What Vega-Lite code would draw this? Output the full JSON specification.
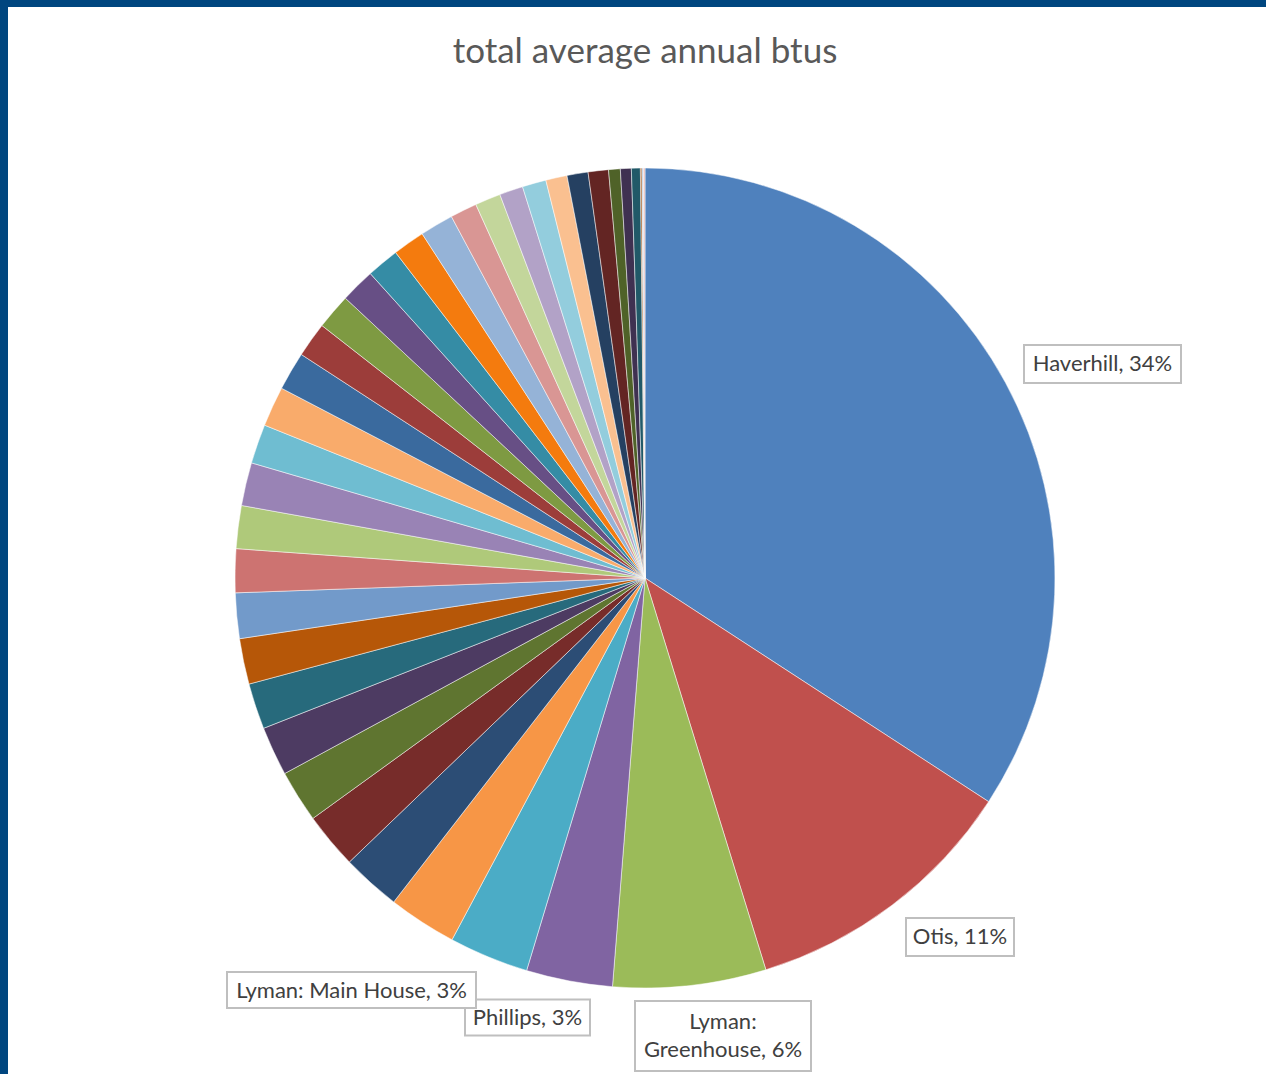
{
  "$schema": "https://vega.github.io/schema/vega-lite/v6.json",
  "width": 1258,
  "height": 1067,
  "autosize": {"type": "none"},
  "padding": {"left": 8, "top": 7, "right": 0, "bottom": 0},
  "background": "#00467F",
  "view": {"fill": "white", "stroke": null},
  "config": {"view": {"fill": "white", "stroke": null}, "font": "Lato"},
  "title": {"text": "total average annual btus", "frame": "group", "anchor": "middle", "offset": -63, "dx": 8, "fontSize": 35, "font": "Lato", "fontWeight": "normal", "color": "#595959"},
  "data": {"values": [
    {"idx": 1, "name": "Haverhill", "value": 34.2, "label": "Haverhill, 34%"},
    {"idx": 2, "name": "Otis", "value": 11.06, "label": "Otis, 11%"},
    {"idx": 3, "name": "Lyman: Greenhouse", "value": 6.03, "label": "Lyman:\nGreenhouse, 6%"},
    {"idx": 4, "name": "Phillips", "value": 3.40, "label": "Phillips, 3%"},
    {"idx": 5, "name": "Lyman: Main House", "value": 3.14, "label": "Lyman: Main House, 3%"},
    {"idx": 6, "name": "Building 6", "value": 2.70, "label": ""},
    {"idx": 7, "name": "Building 7", "value": 2.32, "label": ""},
    {"idx": 8, "name": "Building 8", "value": 2.21, "label": ""},
    {"idx": 9, "name": "Building 9", "value": 2.06, "label": ""},
    {"idx": 10, "name": "Building 10", "value": 1.94, "label": ""},
    {"idx": 11, "name": "Building 11", "value": 1.81, "label": ""},
    {"idx": 12, "name": "Building 12", "value": 1.80, "label": ""},
    {"idx": 13, "name": "Building 13", "value": 1.79, "label": ""},
    {"idx": 14, "name": "Building 14", "value": 1.72, "label": ""},
    {"idx": 15, "name": "Building 15", "value": 1.69, "label": ""},
    {"idx": 16, "name": "Building 16", "value": 1.70, "label": ""},
    {"idx": 17, "name": "Building 17", "value": 1.55, "label": ""},
    {"idx": 18, "name": "Building 18", "value": 1.58, "label": ""},
    {"idx": 19, "name": "Building 19", "value": 1.52, "label": ""},
    {"idx": 20, "name": "Building 20", "value": 1.38, "label": ""},
    {"idx": 21, "name": "Building 21", "value": 1.40, "label": ""},
    {"idx": 22, "name": "Building 22", "value": 1.36, "label": ""},
    {"idx": 23, "name": "Building 23", "value": 1.28, "label": ""},
    {"idx": 24, "name": "Building 24", "value": 1.26, "label": ""},
    {"idx": 25, "name": "Building 25", "value": 1.32, "label": ""},
    {"idx": 26, "name": "Building 26", "value": 1.06, "label": ""},
    {"idx": 27, "name": "Building 27", "value": 1.01, "label": ""},
    {"idx": 28, "name": "Building 28", "value": 0.93, "label": ""},
    {"idx": 29, "name": "Building 29", "value": 0.94, "label": ""},
    {"idx": 30, "name": "Building 30", "value": 0.84, "label": ""},
    {"idx": 31, "name": "Building 31", "value": 0.83, "label": ""},
    {"idx": 32, "name": "Building 32", "value": 0.80, "label": ""},
    {"idx": 33, "name": "Building 33", "value": 0.46, "label": ""},
    {"idx": 34, "name": "Building 34", "value": 0.43, "label": ""},
    {"idx": 35, "name": "Building 35", "value": 0.35, "label": ""},
    {"idx": 36, "name": "Building 36", "value": 0.06, "label": ""},
    {"idx": 37, "name": "Building 37", "value": 0.06, "label": ""},
    {"idx": 38, "name": "Building 38", "value": 0.06, "label": ""}
  ]},
  "layer": [
    {
      "mark": {"type": "arc", "outerRadius": 410, "x": {"expr": "width/2+8"}, "y": {"expr": "height/2+37.5"}, "stroke": "white", "strokeWidth": 0.5},
      "encoding": {
        "theta": {"field": "value", "type": "quantitative", "stack": true},
        "order": {"field": "idx", "type": "quantitative", "sort": "ascending"},
        "color": {"field": "name", "type": "nominal", "legend": null, "sort": null,
          "scale": {
            "domain": ["Haverhill", "Otis", "Lyman: Greenhouse", "Phillips", "Lyman: Main House", "Building 6", "Building 7", "Building 8", "Building 9", "Building 10", "Building 11", "Building 12", "Building 13", "Building 14", "Building 15", "Building 16", "Building 17", "Building 18", "Building 19", "Building 20", "Building 21", "Building 22", "Building 23", "Building 24", "Building 25", "Building 26", "Building 27", "Building 28", "Building 29", "Building 30", "Building 31", "Building 32", "Building 33", "Building 34", "Building 35", "Building 36", "Building 37", "Building 38"],
            "range": ["#4F81BD", "#C0504D", "#9BBB59", "#8064A2", "#4BACC6", "#F79646", "#2C4D75", "#772C2A", "#5F7530", "#4D3B62", "#276A7C", "#B65708", "#729ACA", "#CD7371", "#AFC97A", "#9983B5", "#6FBDD1", "#F9AB6B", "#3A6A9E", "#9C3D3A", "#7E9A42", "#674F85", "#358CA5", "#F47B0E", "#95B3D7", "#D99694", "#C3D69B", "#B2A2C7", "#93CDDD", "#FAC090", "#254061", "#632523", "#4F6228", "#3F3151", "#215968", "#974806", "#B9CDE5", "#E6B9B8"]
          }
        }
      }
    },
    {
      "transform": [{"filter": "datum.name === 'Haverhill'"}],
      "mark": {"type": "point", "shape": "M-1,-0.242H1V0.242H-1Z", "size": 24649, "x": {"expr": "width/2+8+457.5"}, "y": {"expr": "height/2+37.5-214"}, "filled": true, "fill": "white", "stroke": "#BFBFBF", "strokeWidth": 2, "opacity": 1},
      "encoding": {}
    },
    {
      "mark": {"type": "text", "radius": 470, "x": {"expr": "width/2+8"}, "y": {"expr": "height/2+37.5"}, "dx": 44.3, "dy": 10, "fontSize": 22, "font": "Lato", "align": "center", "baseline": "middle", "lineBreak": "\n", "lineHeight": 28},
      "encoding": {
        "theta": {"field": "value", "type": "quantitative", "stack": true},
        "order": {"field": "idx", "type": "quantitative", "sort": "ascending"},
        "detail": {"field": "name", "type": "nominal"},
        "color": {"value": "#404040"},
        "text": {"condition": {"test": "datum.name === 'Haverhill'", "field": "label", "type": "nominal"}, "value": ""}
      }
    },
    {
      "transform": [{"filter": "datum.name === 'Otis'"}],
      "mark": {"type": "point", "shape": "M-1,-0.352H1V0.352H-1Z", "size": 11664, "x": {"expr": "width/2+8+315"}, "y": {"expr": "height/2+37.5+359"}, "filled": true, "fill": "white", "stroke": "#BFBFBF", "strokeWidth": 2, "opacity": 1},
      "encoding": {}
    },
    {
      "mark": {"type": "text", "radius": 470, "x": {"expr": "width/2+8"}, "y": {"expr": "height/2+37.5"}, "dx": 31.9, "dy": -16.2, "fontSize": 22, "font": "Lato", "align": "center", "baseline": "middle", "lineBreak": "\n", "lineHeight": 28},
      "encoding": {
        "theta": {"field": "value", "type": "quantitative", "stack": true},
        "order": {"field": "idx", "type": "quantitative", "sort": "ascending"},
        "detail": {"field": "name", "type": "nominal"},
        "color": {"value": "#404040"},
        "text": {"condition": {"test": "datum.name === 'Otis'", "field": "label", "type": "nominal"}, "value": ""}
      }
    },
    {
      "transform": [{"filter": "datum.name === 'Lyman: Greenhouse'"}],
      "mark": {"type": "point", "shape": "M-1,-0.398H1V0.398H-1Z", "size": 30976, "x": {"expr": "width/2+8+78"}, "y": {"expr": "height/2+37.5+458"}, "filled": true, "fill": "white", "stroke": "#BFBFBF", "strokeWidth": 2, "opacity": 1},
      "encoding": {}
    },
    {
      "mark": {"type": "text", "radius": 470, "x": {"expr": "width/2+8"}, "y": {"expr": "height/2+37.5"}, "dx": 26.4, "dy": -23, "fontSize": 22, "font": "Lato", "align": "center", "baseline": "middle", "lineBreak": "\n", "lineHeight": 28},
      "encoding": {
        "theta": {"field": "value", "type": "quantitative", "stack": true},
        "order": {"field": "idx", "type": "quantitative", "sort": "ascending"},
        "detail": {"field": "name", "type": "nominal"},
        "color": {"value": "#404040"},
        "text": {"condition": {"test": "datum.name === 'Lyman: Greenhouse'", "field": "label", "type": "nominal"}, "value": ""}
      }
    },
    {
      "transform": [{"filter": "datum.name === 'Phillips'"}],
      "mark": {"type": "point", "shape": "M-1,-0.288H1V0.288H-1Z", "size": 15625, "x": {"expr": "width/2+8-117.5"}, "y": {"expr": "height/2+37.5+439.5"}, "filled": true, "fill": "white", "stroke": "#BFBFBF", "strokeWidth": 2, "opacity": 1},
      "encoding": {}
    },
    {
      "mark": {"type": "text", "radius": 470, "x": {"expr": "width/2+8"}, "y": {"expr": "height/2+37.5"}, "dx": -30.5, "dy": -21.5, "fontSize": 22, "font": "Lato", "align": "center", "baseline": "middle", "lineBreak": "\n", "lineHeight": 28},
      "encoding": {
        "theta": {"field": "value", "type": "quantitative", "stack": true},
        "order": {"field": "idx", "type": "quantitative", "sort": "ascending"},
        "detail": {"field": "name", "type": "nominal"},
        "color": {"value": "#404040"},
        "text": {"condition": {"test": "datum.name === 'Phillips'", "field": "label", "type": "nominal"}, "value": ""}
      }
    },
    {
      "transform": [{"filter": "datum.name === 'Lyman: Main House'"}],
      "mark": {"type": "point", "shape": "M-1,-0.1446H1V0.1446H-1Z", "size": 62001, "x": {"expr": "width/2+8-293.5"}, "y": {"expr": "height/2+37.5+412"}, "filled": true, "fill": "white", "stroke": "#BFBFBF", "strokeWidth": 2, "opacity": 1},
      "encoding": {}
    },
    {
      "mark": {"type": "text", "radius": 470, "x": {"expr": "width/2+8"}, "y": {"expr": "height/2+37.5"}, "dx": -114.1, "dy": -21.5, "fontSize": 22, "font": "Lato", "align": "center", "baseline": "middle", "lineBreak": "\n", "lineHeight": 28},
      "encoding": {
        "theta": {"field": "value", "type": "quantitative", "stack": true},
        "order": {"field": "idx", "type": "quantitative", "sort": "ascending"},
        "detail": {"field": "name", "type": "nominal"},
        "color": {"value": "#404040"},
        "text": {"condition": {"test": "datum.name === 'Lyman: Main House'", "field": "label", "type": "nominal"}, "value": ""}
      }
    }
  ]
}
